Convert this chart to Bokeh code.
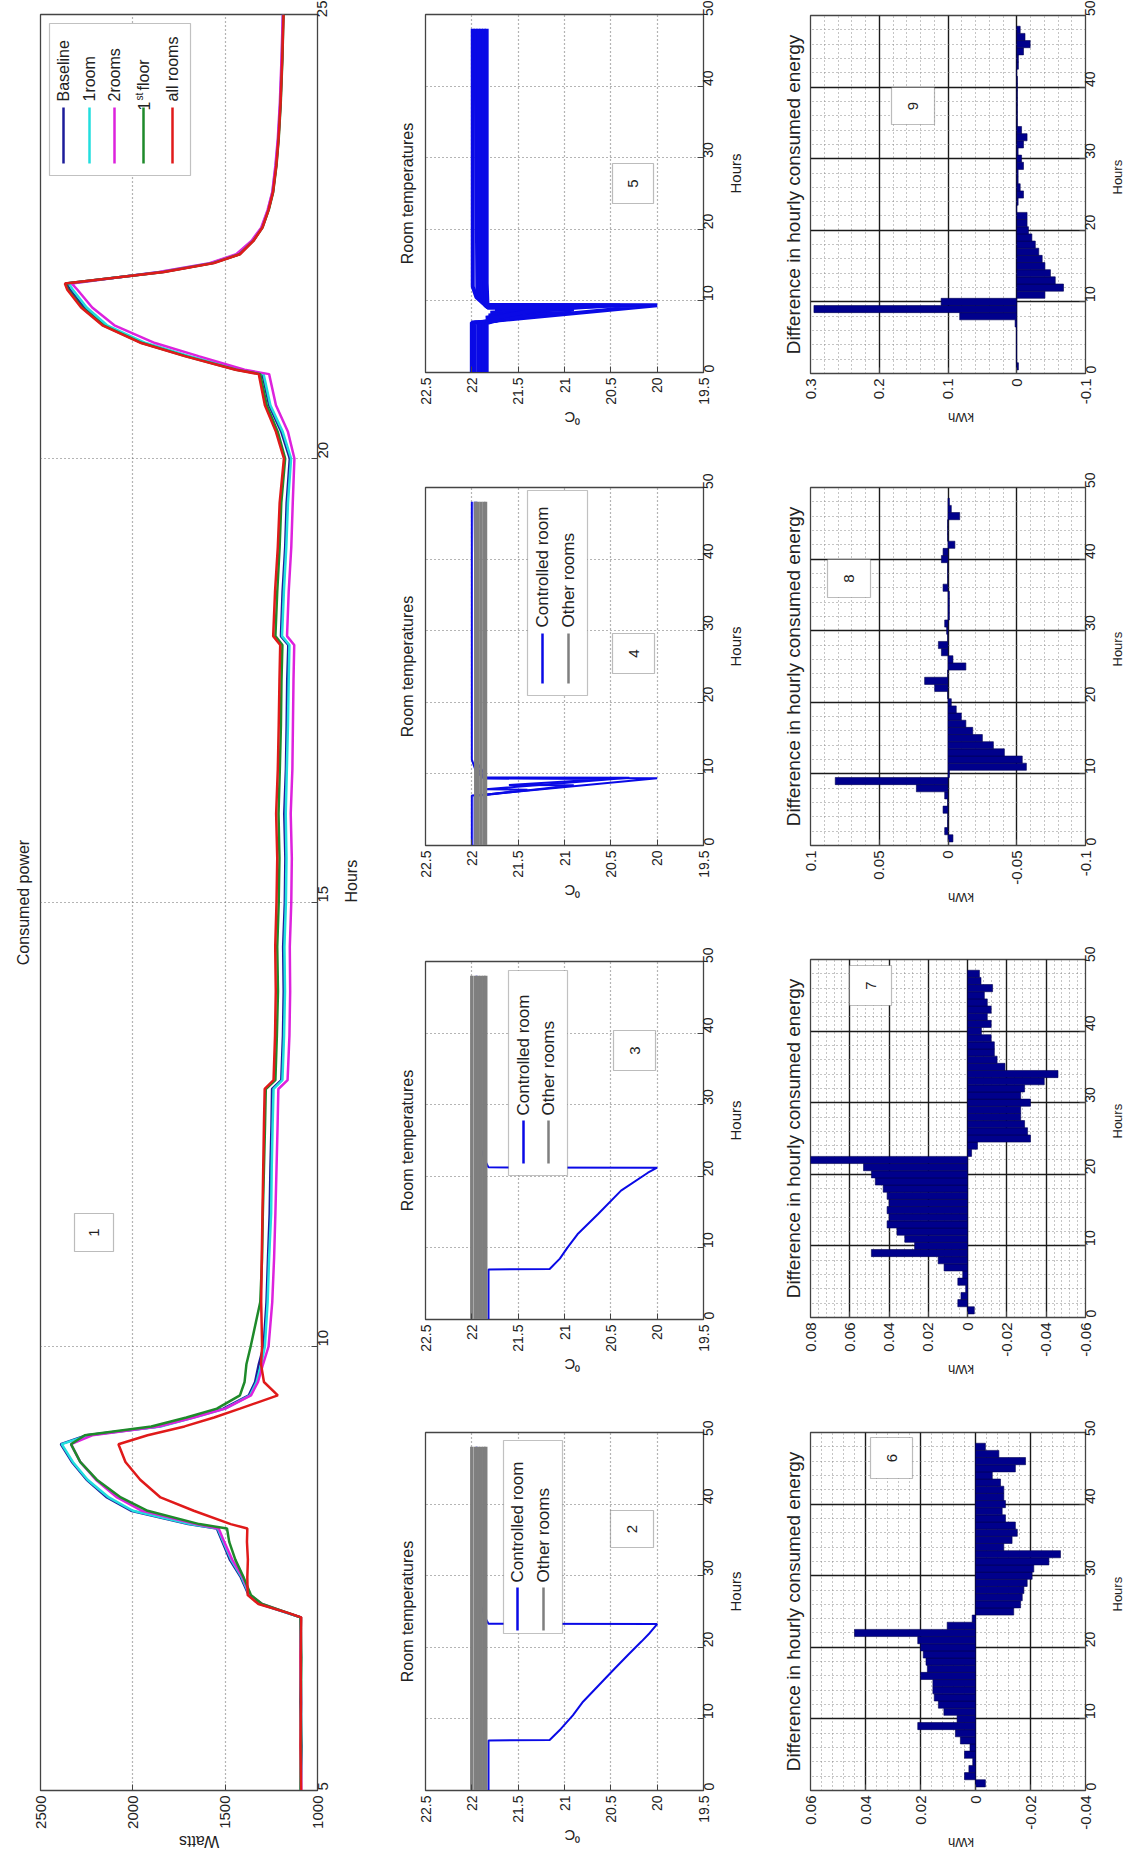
import math
from bokeh.plotting import figure
from bokeh.layouts import row, column
from bokeh.models import Range1d, FixedTicker, Title, Label, BoxAnnotation, LinearAxis
from bokeh.embed import file_html
from bokeh.resources import INLINE

FONT = "Liberation Sans"

# ---------------- Panel 1 : consumed power ----------------
hours_p1 = [5.0, 5.5, 6.0, 6.5, 6.95, 7.0, 7.1, 7.2, 7.4, 7.6, 7.8, 7.95, 8.0, 8.15, 8.3, 8.5, 8.7, 8.9,
            9.0, 9.1, 9.2, 9.3, 9.45, 9.6, 9.8, 10.0, 10.5, 11.0, 11.5, 12.0, 12.5, 12.9, 13.0, 13.5,
            14.0, 14.5, 15.0, 15.5, 16.0, 16.5, 17.0, 17.5, 17.9, 18.0, 18.5, 19.0, 19.5, 20.0, 20.3,
            20.6, 20.95, 21.0, 21.15, 21.3, 21.5, 21.7, 21.9, 21.97, 22.1, 22.2, 22.3, 22.45, 22.6,
            22.8, 23.0, 23.3, 23.6, 24.0, 24.5, 25.0]
baseline = [1090, 1087, 1092, 1089, 1091, 1165, 1310, 1372, 1415, 1475, 1515, 1545, 1700, 2010, 2140,
            2250, 2330, 2390, 2250, 1860, 1680, 1510, 1372, 1338, 1318, 1292, 1276, 1268, 1259, 1255,
            1249, 1246, 1196, 1187, 1183, 1186, 1177, 1174, 1180, 1171, 1167, 1164, 1158, 1198, 1189,
            1175, 1167, 1150, 1196, 1262, 1298, 1430, 1700, 1945, 2155, 2265, 2340, 2360, 1840, 1570,
            1425, 1350, 1300, 1266, 1242, 1224, 1212, 1201, 1192, 1186]
one_room = [1092, 1090, 1088, 1091, 1089, 1168, 1305, 1368, 1410, 1468, 1510, 1540, 1690, 2000, 2130,
            2245, 2325, 2385, 2240, 1850, 1670, 1500, 1365, 1330, 1305, 1285, 1270, 1262, 1251, 1248,
            1243, 1238, 1190, 1181, 1176, 1179, 1171, 1168, 1172, 1166, 1160, 1156, 1152, 1192, 1182,
            1169, 1160, 1143, 1188, 1255, 1292, 1425, 1690, 1930, 2140, 2250, 2325, 2345, 1850, 1575,
            1430, 1352, 1302, 1268, 1244, 1226, 1213, 1202, 1193, 1187]
two_rooms = [1088, 1091, 1089, 1092, 1090, 1162, 1300, 1365, 1405, 1462, 1505, 1535, 1660, 1950, 2085,
             2200, 2285, 2335, 2220, 1860, 1670, 1500, 1360, 1322, 1295, 1265, 1245, 1235, 1228, 1222,
             1216, 1212, 1162, 1152, 1148, 1150, 1142, 1139, 1145, 1136, 1133, 1130, 1126, 1165, 1156,
             1142, 1134, 1125, 1160, 1225, 1262, 1395, 1640, 1880, 2100, 2220, 2300, 2330, 1860, 1585,
             1440, 1358, 1305, 1270, 1245, 1228, 1215, 1204, 1195, 1188]
first_floor = [1091, 1089, 1090, 1088, 1092, 1160, 1300, 1360, 1400, 1445, 1478, 1490, 1640, 1920, 2065,
               2195, 2285, 2335, 2260, 1900, 1710, 1545, 1420, 1395, 1385, 1362, 1310, 1300, 1296, 1290,
               1284, 1280, 1228, 1220, 1214, 1218, 1210, 1206, 1211, 1204, 1198, 1195, 1190, 1228, 1218,
               1205, 1196, 1175, 1215, 1275, 1310, 1440, 1710, 1950, 2160, 2275, 2350, 2365, 1835, 1565,
               1422, 1348, 1298, 1264, 1240, 1222, 1210, 1199, 1190, 1184]
all_rooms = [1089, 1092, 1090, 1091, 1088, 1160, 1320, 1378, 1380, 1377, 1382, 1380, 1470, 1670, 1850,
             1960, 2040, 2078, 1920, 1720, 1560, 1420, 1215, 1290, 1306, 1300, 1305, 1302, 1298, 1294,
             1290, 1286, 1238, 1230, 1226, 1229, 1222, 1218, 1224, 1215, 1210, 1206, 1202, 1240, 1230,
             1215, 1205, 1182, 1225, 1285, 1318, 1445, 1715, 1955, 2165, 2280, 2355, 2368, 1830, 1560,
             1420, 1347, 1298, 1265, 1241, 1223, 1211, 1200, 1191, 1184]
series_names = ["Baseline", "1room", "2rooms", "1st floor", "all rooms"]
series_colors = ["#1c1c9a", "#22dede", "#dd22dd", "#1e8a2a", "#e01a1a"]
watts_ticks = [1000, 1500, 2000, 2500]
hours_ticks_p1 = [5, 10, 15, 20, 25]

# ---------------- Panels 2-5 : room temperatures ----------------
temp_ticks = [19.5, 20.0, 20.5, 21.0, 21.5, 22.0, 22.5]
temp_labels = ["19.5", "20", "20.5", "21", "21.5", "22", "22.5"]
hours_ticks = [0, 10, 20, 30, 40, 50]
other_rooms_T = [22.0, 21.96, 21.93, 21.9, 21.87, 21.85]
other_rooms_h = [0, 48]

p2_ctrl_h = [0, 7.0, 7.05, 8.6, 10.5, 12.4, 14.7, 17.0, 19.0, 20.8, 22.0, 23.25, 23.3, 24.0, 25.0, 26.5, 28.0, 48.0]
p2_ctrl_T = [21.82, 21.82, 21.16, 21.04, 20.91, 20.8, 20.63, 20.46, 20.31, 20.17, 20.08, 20.0, 21.82, 21.85, 21.88, 21.92, 21.95, 21.95]
p3_ctrl_h = [0, 7.0, 7.05, 8.5, 10.0, 11.9, 14.7, 18.0, 20.5, 21.2, 21.25, 22.0, 23.0, 24.5, 26.0, 48.0]
p3_ctrl_T = [21.82, 21.82, 21.16, 21.05, 20.97, 20.86, 20.64, 20.39, 20.1, 20.0, 21.82, 21.85, 21.88, 21.92, 21.95, 21.95]

p4_ctrl_h = [[0, 7.0, 7.05, 9.4, 9.45, 10.5, 12.0, 48],
             [0, 7.0, 7.05, 8.4, 8.45, 9.3, 9.35, 11.0, 48],
             [0, 7.0, 7.05, 7.8, 7.85, 9.45, 9.5, 11.5, 48]]
p4_ctrl_T = [[22.0, 22.0, 21.9, 20.0, 21.88, 21.96, 22.0, 22.0],
             [21.97, 21.97, 21.85, 20.9, 21.6, 20.55, 21.86, 21.95, 21.97],
             [21.95, 21.95, 21.88, 21.4, 21.85, 20.3, 21.84, 21.94, 21.95]]

p5_ctrl_h = [[0, 7.0, 7.05, 9.4, 9.45, 10.5, 12.0, 48],
             [0, 7.0, 7.05, 8.8, 8.85, 9.35, 9.4, 11.0, 48],
             [0, 7.0, 7.05, 8.3, 8.35, 9.3, 9.35, 11.5, 48],
             [0, 7.0, 7.05, 7.9, 7.95, 9.2, 9.25, 12.0, 48],
             [0, 7.0, 7.05, 7.6, 7.65, 9.1, 9.15, 13.0, 48],
             [0, 6.9, 6.95, 7.4, 7.45, 9.0, 9.05, 12.5, 48]]
p5_ctrl_T = [[22.0, 22.0, 21.9, 20.0, 21.86, 21.95, 21.99, 21.99],
             [21.97, 21.97, 21.88, 20.9, 21.75, 20.4, 21.85, 21.94, 21.96],
             [21.93, 21.93, 21.85, 21.2, 21.8, 20.6, 21.84, 21.92, 21.93],
             [21.9, 21.9, 21.86, 21.45, 21.82, 20.8, 21.85, 21.9, 21.9],
             [21.87, 21.87, 21.84, 21.6, 21.85, 21.0, 21.84, 21.87, 21.87],
             [21.84, 21.84, 21.83, 21.7, 21.83, 21.2, 21.83, 21.84, 21.84]]

# ---------------- Panels 6-9 : hourly energy difference ----------------
bar_hours = list(range(1, 49))
diff6 = [-0.0036, 0.004, 0.0024, 0.001, 0.004, 0.002, 0.0055, 0.0073, 0.021, 0.0067, 0.0115, 0.0135,
         0.015, 0.0155, 0.0155, 0.020, 0.0175, 0.018, 0.019, 0.020, 0.021, 0.044, 0.0103, 0.0012,
         -0.0139, -0.0164, -0.017, -0.0176, -0.0188, -0.0206, -0.0212, -0.0267, -0.0309, -0.0103,
         -0.0133, -0.0152, -0.0145, -0.0109, -0.0097, -0.0109, -0.0103, -0.0103, -0.0091, -0.0061,
         -0.0145, -0.0182, -0.0085, -0.0036]
diff7 = [-0.0034, 0.005, 0.0034, 0.001, 0.005, 0.0025, 0.012, 0.015, 0.049, 0.027, 0.032, 0.036, 0.041,
         0.040, 0.041, 0.040, 0.041, 0.043, 0.047, 0.049, 0.053, 0.080, -0.002, -0.005, -0.032, -0.0305,
         -0.029, -0.027, -0.027, -0.032, -0.027, -0.029, -0.039, -0.046, -0.019, -0.015, -0.0136, -0.0136,
         -0.012, -0.007, -0.012, -0.010, -0.012, -0.010, -0.0085, -0.0127, -0.0068, -0.006]
diff8 = [-0.0036, 0.0024, 0.0003, 0.0002, 0.0036, 0.0003, 0.0024, 0.023, 0.082, -0.001, -0.057, -0.054,
         -0.041, -0.033, -0.025, -0.018, -0.013, -0.0097, -0.006, -0.0024, 0.0003, 0.0097, 0.017, 0.0003,
         -0.013, -0.0036, 0.0048, 0.007, 0.0003, 0.001, 0.0024, -0.001, -0.001, -0.001, -0.001, 0.0036,
         0.0003, 0.0003, 0.0003, 0.0048, 0.0036, -0.005, 0.0003, 0.0003, 0.0003, -0.0085, -0.0024, -0.001]
diff9 = [-0.0024, 0.0005, 0.0005, 0.0005, 0.0005, 0.0005, 0.0024, 0.083, 0.295, 0.11, -0.041, -0.068,
         -0.056, -0.049, -0.041, -0.037, -0.032, -0.027, -0.022, -0.017, -0.015, -0.015, 0.0005, -0.002,
         -0.0098, -0.005, -0.002, -0.002, -0.0098, -0.007, -0.002, -0.0098, -0.015, -0.007, -0.001, -0.001,
         -0.001, -0.001, -0.001, -0.001, -0.001, 0.0005, -0.0024, -0.0024, -0.0098, -0.0195, -0.012, -0.005]
kwh6_ticks = [-0.04, -0.02, 0, 0.02, 0.04, 0.06]
kwh6_labels = ["-0.04", "-0.02", "0", "0.02", "0.04", "0.06"]
kwh7_ticks = [-0.06, -0.04, -0.02, 0, 0.02, 0.04, 0.06, 0.08]
kwh7_labels = ["-0.06", "-0.04", "-0.02", "0", "0.02", "0.04", "0.06", "0.08"]
kwh8_ticks = [-0.1, -0.05, 0, 0.05, 0.1]
kwh8_labels = ["-0.1", "-0.05", "0", "0.05", "0.1"]
kwh9_ticks = [-0.1, 0, 0.1, 0.2, 0.3]
kwh9_labels = ["-0.1", "0", "0.1", "0.2", "0.3"]

BLUE = "#0a0ae6"
GRAY = "#7f7f7f"
BAR = "#00008c"

HAS_ALO = "axis_label_orientation" in LinearAxis.properties()


def pg(fr, X, Y):
    """page pixel -> data coords of a panel frame"""
    L, T, W, H, xl, xr, yt, yb = fr
    return xl + (X - L) / W * (xr - xl), yt - (Y - T) / H * (yt - yb)


def make_fig(w, h, fr, mb):
    L, T, W, H, xl, xr, yt, yb = fr
    p = figure(width=w, height=h, x_range=Range1d(xl, xr), y_range=Range1d(yb, yt),
               output_backend="svg", toolbar_location=None, y_axis_location="right",
               min_border_left=mb[0], min_border_right=mb[1], min_border_top=mb[2], min_border_bottom=mb[3])
    p.outline_line_color = "#444444"
    p.outline_line_width = 1.3
    p.background_fill_color = "white"
    p.border_fill_color = "white"
    return p


def style(p, xt, xl_, yt, xlabel, vsize="15px", hsize="14px", labsize="15px", minor_x=None, minor_y=None,
          hstand=10):
    xa = p.xaxis[0]
    ya = p.yaxis[0]
    xa.ticker = FixedTicker(ticks=xt, minor_ticks=minor_x or [])
    ya.ticker = FixedTicker(ticks=yt, minor_ticks=minor_y or [])
    xa.major_label_overrides = {t: s for t, s in zip(xt, xl_)}
    ya.major_label_overrides = {t: str(t) for t in yt}
    for ax in (xa, ya):
        ax.axis_line_color = "#444444"
        ax.major_tick_in = 6
        ax.major_tick_out = 0
        ax.minor_tick_in = 0
        ax.minor_tick_out = 0
        ax.minor_tick_line_color = None
        ax.major_tick_line_color = "#444444"
        ax.major_label_orientation = math.pi / 2
        ax.major_label_text_font = FONT
        ax.major_label_text_color = "#222222"
        ax.axis_label_text_font = FONT
        ax.axis_label_text_font_style = "normal"
        ax.axis_label_text_color = "#222222"
        ax.axis_label_text_font_size = labsize
    xa.major_label_text_font_size = vsize
    ya.major_label_text_font_size = hsize
    xa.axis_label = xlabel
    ya.axis_label = "Hours"
    xa.axis_label_standoff = 10
    ya.axis_label_standoff = hstand
    if HAS_ALO:
        xa.axis_label_orientation = math.pi
        ya.axis_label_orientation = math.pi / 2


def left_title(p, text, size, standoff):
    p.add_layout(Title(text=text, text_font=FONT, text_font_size=size, text_font_style="normal",
                       text_color="#222222", align="center", standoff=standoff), "left")


def num_box(p, fr, x0, y0, x1, y1, txt):
    a, b = pg(fr, x0, y0)
    c, d = pg(fr, x1, y1)
    p.add_layout(BoxAnnotation(left=min(a, c), right=max(a, c), bottom=min(b, d), top=max(b, d),
                               fill_color="white", fill_alpha=1.0, line_color="#222222", line_width=1.2))
    cx, cy = pg(fr, (x0 + x1) / 2, (y0 + y1) / 2)
    p.add_layout(Label(x=cx, y=cy, text=txt, angle=math.pi / 2, text_align="center",
                       text_baseline="middle", text_font=FONT, text_font_size="15px", text_color="#222222"))


def legend_box(p, fr, box, entries, y_line0, y_line1, y_text, size="17px"):
    a, b = pg(fr, box[0], box[1])
    c, d = pg(fr, box[2], box[3])
    p.add_layout(BoxAnnotation(left=min(a, c), right=max(a, c), bottom=min(b, d), top=max(b, d),
                               fill_color="white", fill_alpha=1.0, line_color="#333333", line_width=1.2))
    for xpix, txt, col in entries:
        x0, y0 = pg(fr, xpix, y_line0)
        x1, y1 = pg(fr, xpix, y_line1)
        r = p.line([x0, x1], [y0, y1], line_color=col, line_width=2.5)
        r.level = "overlay"
        tx, ty = pg(fr, xpix, y_text)
        p.add_layout(Label(x=tx, y=ty, text=txt, angle=math.pi / 2, text_align="left",
                           text_baseline="middle", text_font=FONT, text_font_size=size,
                           text_color="#222222"))


def dotted_grid(p):
    for g in (p.xgrid[0], p.ygrid[0]):
        g.grid_line_color = "#6a6a6a"
        g.grid_line_dash = "1 3"
        g.grid_line_width = 1.2


# ======================= Panel 1 =======================
F1 = (40, 14, 277, 1776, 2500, 1000, 25, 5)
p1 = make_fig(380, 1865, F1, (40, 63, 14, 75))
style(p1, watts_ticks, ["1000", "1500", "2000", "2500"], hours_ticks_p1, "Watts",
      vsize="15px", hsize="15px", labsize="16px", hstand=16)
dotted_grid(p1)
left_title(p1, "Consumed power", "16px", 18)
for vals, col in zip([baseline, one_room, two_rooms, first_floor, all_rooms], series_colors):
    p1.line(vals, hours_p1, line_color=col, line_width=2.5)
# legend
a, b = pg(F1, 49, 23)
c, d = pg(F1, 190, 175)
p1.add_layout(BoxAnnotation(left=min(a, c), right=max(a, c), bottom=min(b, d), top=max(b, d),
                            fill_color="white", fill_alpha=1.0, line_color="#333333", line_width=1.2))
for xpix, name, col in zip([63, 89, 114, 143, 172], series_names, series_colors):
    x0, y0 = pg(F1, xpix, 107)
    x1, y1 = pg(F1, xpix, 163)
    r = p1.line([x0, x1], [y0, y1], line_color=col, line_width=2.5)
    r.level = "overlay"
    if name == "1st floor":
        tx, ty = pg(F1, xpix, 110)
        p1.add_layout(Label(x=tx, y=ty, text="1", angle=math.pi / 2, text_align="left", text_baseline="middle",
                            text_font=FONT, text_font_size="16px", text_color="#222222"))
        tx, ty = pg(F1, xpix - 4, 100)
        p1.add_layout(Label(x=tx, y=ty, text="st", angle=math.pi / 2, text_align="left", text_baseline="middle",
                            text_font=FONT, text_font_size="10px", text_color="#222222"))
        tx, ty = pg(F1, xpix, 90)
        p1.add_layout(Label(x=tx, y=ty, text="floor", angle=math.pi / 2, text_align="left", text_baseline="middle",
                            text_font=FONT, text_font_size="16px", text_color="#222222"))
    else:
        tx, ty = pg(F1, xpix, 101)
        p1.add_layout(Label(x=tx, y=ty, text=name, angle=math.pi / 2, text_align="left", text_baseline="middle",
                            text_font=FONT, text_font_size="16px", text_color="#222222"))
num_box(p1, F1, 74, 1213, 113, 1251, "1")

# ======================= Temperature panels =======================
def temp_fig(h, top, mb_top, mb_bot):
    fr = (425, top, 278, 358, 22.5, 19.5, 50, 0)
    p = make_fig(380, h, fr, (45, 57, mb_top, mb_bot))
    style(p, temp_ticks, temp_labels, hours_ticks, "\u2070C", vsize="14px", hsize="14px", labsize="15px",
          hstand=14)
    dotted_grid(p)
    left_title(p, "Room temperatures", "16px", 19)
    return p, fr


p5, F5 = temp_fig(473, 14, 14, 101)
p4, F4 = temp_fig(474, 487, 14, 102)
p3, F3 = temp_fig(473, 961, 14, 101)
p2, F2 = temp_fig(445, 1432, 12, 75)

# panel 2
p2.line(p2_ctrl_T, p2_ctrl_h, line_color=BLUE, line_width=2)
for T in other_rooms_T:
    p2.line([T, T], other_rooms_h, line_color=GRAY, line_width=3.5)
legend_box(p2, F2, (503, 1440, 562, 1633), [(517, "Controlled room", BLUE), (543, "Other rooms", GRAY)],
           1587, 1630, 1582)
num_box(p2, F2, 610, 1510, 653, 1547, "2")

# panel 3
p3.line(p3_ctrl_T, p3_ctrl_h, line_color=BLUE, line_width=2)
for T in other_rooms_T:
    p3.line([T, T], other_rooms_h, line_color=GRAY, line_width=3.5)
legend_box(p3, F3, (508, 970, 567, 1175), [(523, "Controlled room", BLUE), (548, "Other rooms", GRAY)],
           1120, 1163, 1115)
num_box(p3, F3, 613, 1030, 655, 1070, "3")

# panel 4
for hh, TT in zip(p4_ctrl_h, p4_ctrl_T):
    p4.line(TT, hh, line_color=BLUE, line_width=2)
for T in other_rooms_T[1:]:
    p4.line([T, T], other_rooms_h, line_color=GRAY, line_width=3)
legend_box(p4, F4, (527, 490, 587, 695), [(542, "Controlled room", BLUE), (568, "Other rooms", GRAY)],
           633, 683, 627)
num_box(p4, F4, 612, 633, 654, 673, "4")

# panel 5
for hh, TT in zip(p5_ctrl_h, p5_ctrl_T):
    p5.line(TT, hh, line_color=BLUE, line_width=4)
num_box(p5, F5, 612, 163, 653, 203, "5")

# ======================= Bar panels =======================
def bar_fig(h, top, mb_top, mb_bot, xl, xr, ticks, labels, minor_step, vals, num, box):
    fr = (810, top, 275, 358, xl, xr, 50, 0)
    p = make_fig(383, h, fr, (50, 58, mb_top, mb_bot))
    n = int(round((xl - xr) / minor_step))
    minor_x = [round(xr + i * minor_step, 5) for i in range(n + 1)]
    minor_y = [float(v) for v in range(0, 51, 2)]
    style(p, ticks, labels, hours_ticks, "kWh", vsize="15px", hsize="14px", labsize="13px",
          minor_x=minor_x, minor_y=minor_y, hstand=14)
    for g in (p.xgrid[0], p.ygrid[0]):
        g.grid_line_color = "#1a1a1a"
        g.grid_line_width = 1.4
        g.grid_line_dash = "solid"
        g.minor_grid_line_color = "#8a8a8a"
        g.minor_grid_line_dash = "1 3"
        g.minor_grid_line_width = 1
    left_title(p, "Difference in hourly consumed energy", "19px", 14)
    p.hbar(y=bar_hours, left=0, right=vals, height=1.0, fill_color=BAR, line_color="#000050", line_width=0.6)
    num_box(p, fr, box[0], box[1], box[2], box[3], num)
    return p


p9 = bar_fig(472, 15, 15, 99, 0.3, -0.1, kwh9_ticks, kwh9_labels, 0.02, diff9, "9", (891, 87, 934, 124))
p8 = bar_fig(474, 487, 15, 101, 0.1, -0.1, kwh8_ticks, kwh8_labels, 0.01, diff8, "8", (827, 559, 870, 597))
p7 = bar_fig(474, 959, 13, 103, 0.08, -0.06, kwh7_ticks, kwh7_labels, 0.004, diff7, "7", (849, 965, 891, 1005))
p6 = bar_fig(445, 1432, 12, 75, 0.06, -0.04, kwh6_ticks, kwh6_labels, 0.004, diff6, "6", (870, 1437, 912, 1478))

layout = row(p1, column(p5, p4, p3, p2), column(p9, p8, p7, p6))
open("out.html", "w").write(file_html(layout, INLINE))
